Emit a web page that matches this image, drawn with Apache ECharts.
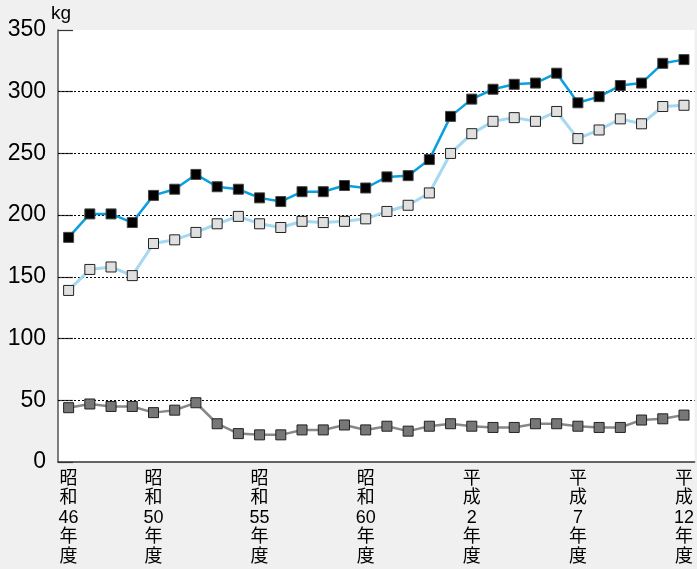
<!DOCTYPE html>
<html><head><meta charset="utf-8">
<script src="https://cdn.jsdelivr.net/npm/echarts@6/dist/echarts.min.js"></script>
<style>html,body{margin:0;padding:0;background:#f0f0f0}#c{width:697px;height:569px}</style>
</head><body><div id="c"></div>
<script>
const categories = ['昭和46年度','昭和47年度','昭和48年度','昭和49年度','昭和50年度','昭和51年度','昭和52年度','昭和53年度','昭和54年度','昭和55年度',
 '昭和56年度','昭和57年度','昭和58年度','昭和59年度','昭和60年度','昭和61年度','昭和62年度','昭和63年度','平成元年度','平成2年度',
 '平成3年度','平成4年度','平成5年度','平成6年度','平成7年度','平成8年度','平成9年度','平成10年度','平成11年度','平成12年度'];
const tickLabels = {0:['昭','和','46','年','度'],4:['昭','和','50','年','度'],9:['昭','和','55','年','度'],14:['昭','和','60','年','度'],
 19:['平','成','2','年','度'],24:['平','成','7','年','度'],29:['平','成','12','年','度']};
const gridValues = [50,100,150,200,250,300];
const seriesTop = [182,201,201,194,216,221,233,223,221,214,211,219,219,224,222,231,232,245,280,294,302,306,307,315,291,296,305,307,323,326];
const seriesMid = [139,156,158,151,177,180,186,193,199,193,190,195,194,195,197,203,208,218,250,266,276,279,276,284,262,269,278,274,288,289];
const seriesLow = [44,47,45,45,40,42,48,31,23,22,22,26,26,30,26,29,25,29,31,29,28,28,31,31,29,28,28,34,35,38];

const chart = echarts.init(document.getElementById('c'));
const ff = '"Liberation Sans", Arial, "Noto Sans CJK JP", sans-serif';
chart.setOption({
  backgroundColor: '#f0f0f0',
  animation: false,
  grid: {left: 58, right: 2, top: 30, bottom: 107, show: true, backgroundColor: '#fff', borderWidth: 0},
  graphic: [{type: 'text', left: 51, top: 4, style: {text: 'kg', fontSize: 19, fontFamily: 'Liberation Sans', fill: '#000'}}],
  xAxis: {
    type: 'category', data: categories, boundaryGap: true,
    axisLine: {lineStyle: {color: '#333', width: 1.5}},
    axisTick: {inside: true, length: 10, interval: 0, lineStyle: {color: '#333', width: 1.2}},
    axisLabel: {
      interval: 0, margin: 7, color: '#000', fontSize: 18, lineHeight: 19.5, fontFamily: ff,
      formatter: (v, i) => tickLabels[i] ? tickLabels[i].join('\n') : ''
    },
    splitLine: {show: false}
  },
  yAxis: {
    type: 'value', min: 0, max: 350, interval: 50,
    axisLine: {show: true, lineStyle: {color: '#555', width: 1.5}},
    axisTick: {show: true, inside: true, length: 15, lineStyle: {color: '#333', width: 1.2}},
    axisLabel: {color: '#000', fontSize: 23, margin: 12, fontFamily: ff, padding: [4, 0, 0, 0]},
    splitLine: {show: false}
  },
  series: [
    {type: 'line', data: seriesLow, symbol: 'rect', symbolSize: 10, z: 3,
     lineStyle: {color: '#888', width: 2.5}, itemStyle: {color: '#777', borderColor: '#222', borderWidth: 1},
     markLine: {silent: true, symbol: 'none', label: {show: false}, z: 1,
       lineStyle: {color: '#000', type: [2, 2], width: 1},
       data: gridValues.map(v => ({yAxis: v}))}},
    {type: 'line', data: seriesMid, symbol: 'rect', symbolSize: 10, z: 4,
     lineStyle: {color: '#a6d8f2', width: 3}, itemStyle: {color: '#e0e0e0', borderColor: '#222', borderWidth: 1}},
    {type: 'line', data: seriesTop, symbol: 'rect', symbolSize: 10, z: 5,
     lineStyle: {color: '#0aa0e0', width: 2.5}, itemStyle: {color: '#000', borderColor: '#444', borderWidth: 1}}
  ]
});
</script></body></html>
